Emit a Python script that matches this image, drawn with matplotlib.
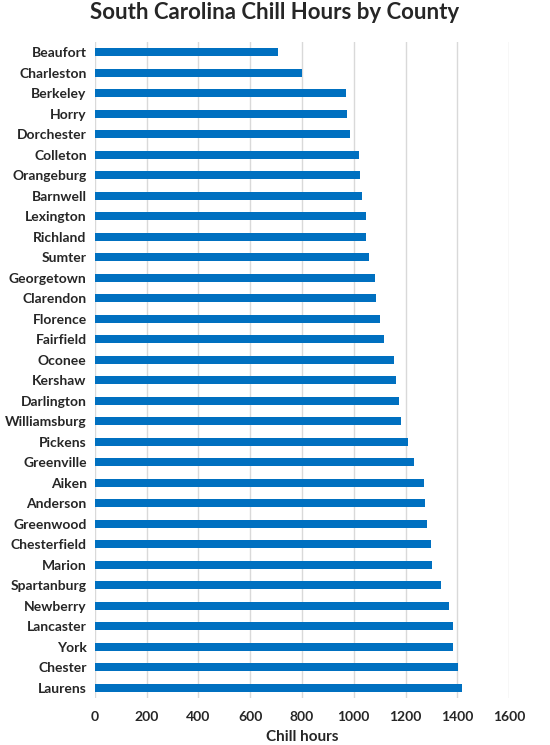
import matplotlib
matplotlib.use("Agg")
import matplotlib.pyplot as plt

counties = ["Beaufort", "Charleston", "Berkeley", "Horry", "Dorchester", "Colleton",
            "Orangeburg", "Barnwell", "Lexington", "Richland", "Sumter", "Georgetown",
            "Clarendon", "Florence", "Fairfield", "Oconee", "Kershaw", "Darlington",
            "Williamsburg", "Pickens", "Greenville", "Aiken", "Anderson", "Greenwood",
            "Chesterfield", "Marion", "Spartanburg", "Newberry", "Lancaster", "York",
            "Chester", "Laurens"]
chill_hours = [706, 800, 969, 975, 985, 1019, 1025, 1031, 1046, 1049, 1060, 1082,
               1085, 1101, 1118, 1154, 1165, 1176, 1181, 1208, 1232, 1271, 1274, 1284,
               1300, 1302, 1337, 1368, 1384, 1384, 1402, 1420]
x_ticks = [0, 200, 400, 600, 800, 1000, 1200, 1400, 1600]

plt.rcParams['font.family'] = ['Lato', 'DejaVu Sans']

fig = plt.figure(figsize=(5.5, 7.45), dpi=100)
ax = fig.add_axes([0.1727, 0.063, 0.7528, 0.8806])

ypos = range(len(counties))
ax.barh(ypos, chill_hours, height=0.38, color="#0070C0", zorder=3)

ax.set_ylim(len(counties) - 0.5, -0.5)
ax.set_xlim(0, 1600)
ax.set_yticks(list(ypos))
ax.set_yticklabels(counties, fontsize=10, fontweight='bold', color='#262626')
ax.set_xticks(x_ticks)
ax.set_xticklabels([str(t) for t in x_ticks], fontsize=10, fontweight='bold', color='#262626')
ax.tick_params(length=0, pad=6)
ax.tick_params(axis='x', pad=9)

ax.grid(axis='x', color='#D9D9D9', linewidth=1, zorder=0)
for s in ax.spines.values():
    s.set_visible(False)

ax.set_xlabel("Chill hours", fontsize=11, fontweight='bold', color='#262626', labelpad=5)
fig.text(0.5, 0.997, "South Carolina Chill Hours by County", ha='center', va='top',
         fontsize=16, fontweight='bold', color='#262626')

fig.savefig("out.png", dpi=100)
